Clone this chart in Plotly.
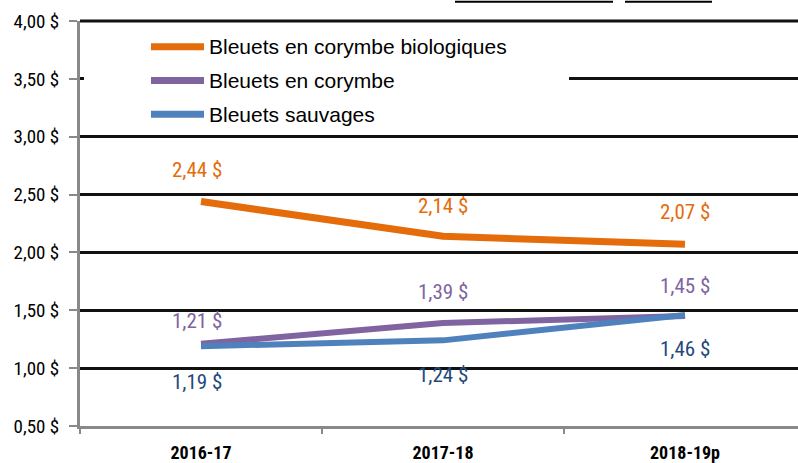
import plotly.graph_objects as go

# ---- data ----
categories = ["2016-17", "2017-18", "2018-19p"]
series_names = ["Bleuets en corymbe biologiques", "Bleuets en corymbe", "Bleuets sauvages"]
organic_highbush = [2.44, 2.14, 2.07]
highbush = [1.21, 1.39, 1.45]
wild = [1.19, 1.24, 1.46]
y_tick_vals = [0.5, 1.0, 1.5, 2.0, 2.5, 3.0, 3.5, 4.0]
y_tick_labels = ["0,50 $", "1,00 $", "1,50 $", "2,00 $", "2,50 $", "3,00 $", "3,50 $", "4,00 $"]

def fmt(v):
    return f"{v:.2f}".replace(".", ",") + " $"

# ---- styles ----
W, H = 798, 463
ML, MR, MT, MB = 80, 0, 21, 34
PW, PH = W - ML - MR, H - MT - MB
Y_MIN, Y_MAX = 0.5, 4.0
line_colors = ["#E46C0A", "#8064A2", "#4F81BD"]
label_colors = ["#E46C0A", "#8064A2", "#1F497D"]
line_widths = [7, 6, 6]
# label offsets in pixels (xshift, yshift) per series per point
label_shifts = [
    [(-4, 32), (0, 30), (0, 32)],
    [(-4, 23), (0, 31), (0, 30)],
    [(-4, -36), (0, -35), (0, -34)],
]
COND = "Roboto Condensed, Liberation Sans Narrow, sans-serif"
REG = "Liberation Sans, Arial, sans-serif"

def px_x(px):
    return (px - ML) / PW

def px_y(py):
    return (MT + PH - py) / PH

all_series = [organic_highbush, highbush, wild]

fig = go.Figure()
for name, vals, col, lw in zip(series_names, all_series, line_colors, line_widths):
    fig.add_trace(go.Scatter(
        x=categories, y=vals, mode="lines", name=name,
        line=dict(color=col, width=lw), showlegend=False, hoverinfo="skip",
    ))

annotations = []
for vals, col, shifts in zip(all_series, label_colors, label_shifts):
    for c, v, (xs, ys) in zip(categories, vals, shifts):
        annotations.append(dict(
            x=c, y=v, xref="x", yref="y", text=fmt(v), showarrow=False,
            xshift=xs, yshift=ys,
            font=dict(family=COND, size=21, color=col),
        ))

shapes = []
# top gridline (at the edge of the plot area)
shapes.append(dict(type="line", xref="paper", yref="paper",
                   x0=0, x1=1, y0=1, y1=1,
                   line=dict(color="#111111", width=3), layer="above"))
# white legend backdrop
shapes.append(dict(type="rect", xref="paper", yref="paper",
                   x0=px_x(84), x1=px_x(569), y0=px_y(132), y1=px_y(27),
                   fillcolor="white", line=dict(width=0), layer="above"))
legend_y = [47, 81, 115]
for name, col, ly in zip(series_names, line_colors, legend_y):
    shapes.append(dict(type="line", xref="paper", yref="paper",
                       x0=px_x(151), x1=px_x(204), y0=px_y(ly), y1=px_y(ly),
                       line=dict(color=col, width=7), layer="above"))
    annotations.append(dict(x=px_x(207), y=px_y(ly), xref="paper", yref="paper",
                            text=name, showarrow=False, xanchor="left", yanchor="middle",
                            font=dict(family=REG, size=21, color="#000000")))

# cut-off title underlines at the very top
for x0, x1 in [(455, 613), (625, 712)]:
    shapes.append(dict(type="line", xref="paper", yref="paper",
                       x0=px_x(x0), x1=px_x(x1), y0=px_y(1.5), y1=px_y(1.5),
                       line=dict(color="black", width=2)))

fig.update_layout(
    width=W, height=H,
    margin=dict(l=ML, r=MR, t=MT, b=MB, pad=0),
    paper_bgcolor="white", plot_bgcolor="white",
    showlegend=False,
    annotations=annotations, shapes=shapes,
    xaxis=dict(
        range=[-0.5, -0.5 + PW / 242.0], type="category",
        showline=True, linecolor="#898989", linewidth=3,
        ticks="outside", tickson="boundaries", ticklen=5, tickcolor="#898989", tickwidth=2,
        ticklabelstandoff=8,
        showgrid=False, zeroline=False,
        tickfont=dict(family=COND, size=18, color="#000000", weight="bold"),
    ),
    yaxis=dict(
        range=[Y_MIN, Y_MAX], tickvals=y_tick_vals, ticktext=y_tick_labels,
        showline=True, linecolor="#898989", linewidth=3,
        ticks="outside", ticklen=8, tickcolor="#898989", tickwidth=2,
        ticklabelstandoff=6,
        showgrid=True, gridcolor="#111111", gridwidth=2.5, zeroline=False,
        tickfont=dict(family=COND, size=19, color="#000000"),
    ),
)

fig.write_html("out.html", config={"displayModeBar": False},
               post_script="document.body.style.margin='0';")
